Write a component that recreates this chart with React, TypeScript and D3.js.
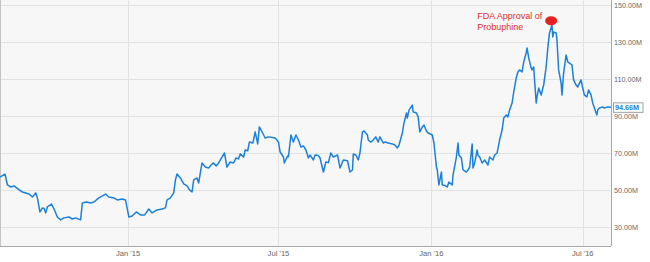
import React from 'react';
import * as d3 from 'd3';

const series2014: [string, number][] = [
  ['2014-07-31', 57.0], ['2014-08-06', 58.6], ['2014-08-09', 52.7], ['2014-08-13', 51.6], ['2014-08-17', 52.2],
  ['2014-08-20', 51.1], ['2014-08-23', 50.0], ['2014-08-27', 48.9], ['2014-08-31', 48.4],
  ['2014-09-04', 47.8], ['2014-09-08', 46.2], ['2014-09-12', 48.4], ['2014-09-14', 45.7], ['2014-09-17', 38.1],
  ['2014-09-20', 40.3], ['2014-09-22', 40.0], ['2014-09-24', 37.6], ['2014-09-26', 40.8],
  ['2014-10-01', 42.4], ['2014-10-04', 39.7], ['2014-10-08', 35.4], ['2014-10-12', 33.8], ['2014-10-16', 34.9],
  ['2014-10-22', 35.4], ['2014-10-26', 34.3], ['2014-10-30', 34.9],
  ['2014-11-05', 33.8], ['2014-11-07', 43.0], ['2014-11-12', 43.5], ['2014-11-17', 43.0], ['2014-11-21', 43.5],
  ['2014-11-27', 45.7],
  ['2014-12-05', 47.8], ['2014-12-09', 46.2], ['2014-12-15', 45.7], ['2014-12-19', 44.6], ['2014-12-25', 45.1],
  ['2014-12-29', 44.6],
];

const series2015: [string, number][] = [
  ['2015-01-02', 35.4], ['2015-01-06', 35.9], ['2015-01-11', 38.1], ['2015-01-16', 36.5], ['2015-01-21', 36.5],
  ['2015-01-26', 39.7], ['2015-01-30', 37.6],
  ['2015-02-05', 39.2], ['2015-02-11', 39.7], ['2015-02-15', 40.3], ['2015-02-17', 44.6], ['2015-02-21', 45.7],
  ['2015-02-25', 48.4], ['2015-02-27', 55.4],
  ['2015-03-01', 58.6], ['2015-03-05', 56.5], ['2015-03-09', 53.3], ['2015-03-13', 52.2], ['2015-03-16', 50.0],
  ['2015-03-19', 48.9], ['2015-03-21', 55.4], ['2015-03-25', 56.5], ['2015-03-27', 53.8], ['2015-03-31', 64.6],
  ['2015-04-04', 62.4], ['2015-04-08', 61.9], ['2015-04-11', 63.5], ['2015-04-14', 64.6], ['2015-04-17', 63.0],
  ['2015-04-20', 64.6], ['2015-04-24', 67.8], ['2015-04-27', 70.0], ['2015-04-30', 62.4],
  ['2015-05-04', 65.1], ['2015-05-08', 64.6], ['2015-05-11', 67.3], ['2015-05-14', 66.8], ['2015-05-16', 69.5],
  ['2015-05-20', 67.8], ['2015-05-22', 71.6], ['2015-05-25', 71.2], ['2015-05-27', 75.9], ['2015-05-31', 75.4],
  ['2015-06-01', 77.0], ['2015-06-03', 81.4], ['2015-06-06', 74.9], ['2015-06-08', 84.1], ['2015-06-12', 80.8],
  ['2015-06-15', 78.1], ['2015-06-19', 78.7], ['2015-06-24', 78.4], ['2015-06-27', 78.1],
  ['2015-07-01', 75.9], ['2015-07-03', 70.5], ['2015-07-07', 67.8], ['2015-07-08', 64.6], ['2015-07-12', 68.4],
  ['2015-07-13', 68.0], ['2015-07-16', 79.7], ['2015-07-19', 75.9], ['2015-07-22', 79.7], ['2015-07-25', 77.0],
  ['2015-07-28', 73.2], ['2015-07-31', 73.8],
  ['2015-08-03', 71.6], ['2015-08-06', 67.3], ['2015-08-08', 68.9], ['2015-08-12', 66.2], ['2015-08-14', 68.9],
  ['2015-08-18', 68.6], ['2015-08-20', 67.3], ['2015-08-24', 59.7], ['2015-08-27', 65.1], ['2015-08-30', 64.8],
  ['2015-09-02', 70.0], ['2015-09-05', 67.8], ['2015-09-10', 68.9], ['2015-09-13', 61.9], ['2015-09-17', 66.2],
  ['2015-09-22', 65.8], ['2015-09-25', 59.7], ['2015-09-28', 60.8], ['2015-09-29', 69.5],
  ['2015-10-02', 68.9], ['2015-10-05', 66.2], ['2015-10-07', 70.0], ['2015-10-10', 81.4], ['2015-10-12', 81.9],
  ['2015-10-16', 79.7], ['2015-10-17', 77.0], ['2015-10-20', 75.9], ['2015-10-23', 77.0], ['2015-10-26', 78.7],
  ['2015-10-29', 75.9], ['2015-10-31', 78.7],
  ['2015-11-04', 75.4], ['2015-11-06', 75.9], ['2015-11-10', 75.4], ['2015-11-15', 74.9], ['2015-11-18', 74.3],
  ['2015-11-21', 72.7], ['2015-11-23', 74.3], ['2015-11-27', 80.8], ['2015-11-29', 86.2],
  ['2015-12-02', 91.6], ['2015-12-03', 88.9], ['2015-12-05', 93.2], ['2015-12-09', 95.9], ['2015-12-10', 92.2],
  ['2015-12-14', 91.6], ['2015-12-16', 89.5], ['2015-12-18', 81.4], ['2015-12-21', 84.1], ['2015-12-23', 85.1],
  ['2015-12-26', 81.9], ['2015-12-28', 80.8],
];

const series2016: [string, number][] = [
  ['2016-01-02', 79.7], ['2016-01-04', 75.4], ['2016-01-07', 62.4], ['2016-01-08', 60.8], ['2016-01-10', 52.7],
  ['2016-01-13', 59.7], ['2016-01-14', 52.7], ['2016-01-17', 52.5], ['2016-01-20', 51.6], ['2016-01-22', 54.3],
  ['2016-01-26', 52.7], ['2016-01-27', 58.1], ['2016-01-31', 67.8],
  ['2016-02-02', 75.4], ['2016-02-03', 68.9], ['2016-02-06', 67.3], ['2016-02-08', 60.8], ['2016-02-12', 59.7],
  ['2016-02-14', 60.8], ['2016-02-16', 62.4], ['2016-02-19', 74.9], ['2016-02-20', 61.9], ['2016-02-22', 64.6],
  ['2016-02-25', 71.6], ['2016-02-26', 68.9], ['2016-02-28', 67.8],
  ['2016-03-02', 64.6], ['2016-03-05', 66.2], ['2016-03-09', 63.5], ['2016-03-11', 67.8], ['2016-03-15', 66.2],
  ['2016-03-17', 68.9], ['2016-03-20', 70.0], ['2016-03-23', 77.0], ['2016-03-26', 82.4], ['2016-03-28', 88.9],
  ['2016-03-31', 90.5],
  ['2016-04-02', 89.5], ['2016-04-04', 93.2], ['2016-04-07', 97.0], ['2016-04-09', 103.0], ['2016-04-12', 110.5],
  ['2016-04-14', 113.8], ['2016-04-16', 114.9], ['2016-04-19', 113.8], ['2016-04-21', 119.2], ['2016-04-24', 124.1],
  ['2016-04-25', 126.8], ['2016-04-27', 121.4], ['2016-04-30', 115.9],
  ['2016-05-01', 114.9], ['2016-05-03', 116.5], ['2016-05-06', 97.0], ['2016-05-07', 100.3], ['2016-05-09', 105.1],
  ['2016-05-12', 101.3], ['2016-05-14', 105.1], ['2016-05-15', 106.7], ['2016-05-18', 116.5], ['2016-05-20', 126.8],
  ['2016-05-22', 134.9], ['2016-05-25', 139.2], ['2016-05-26', 132.7], ['2016-05-27', 135.4], ['2016-05-30', 134.9],
  ['2016-05-31', 131.1],
  ['2016-06-02', 114.9], ['2016-06-05', 107.8], ['2016-06-06', 101.3], ['2016-06-08', 113.2], ['2016-06-11', 123.0],
  ['2016-06-13', 119.2], ['2016-06-15', 118.6], ['2016-06-18', 117.6], ['2016-06-20', 109.5], ['2016-06-23', 106.7],
  ['2016-06-25', 105.7], ['2016-06-29', 109.5],
  ['2016-07-01', 105.1], ['2016-07-03', 101.3], ['2016-07-06', 100.3], ['2016-07-08', 104.1], ['2016-07-11', 101.3],
  ['2016-07-13', 97.0], ['2016-07-15', 94.3], ['2016-07-18', 90.5], ['2016-07-19', 93.2], ['2016-07-21', 94.3],
  ['2016-07-25', 94.9], ['2016-07-27', 94.3], ['2016-07-31', 94.9], ['2016-08-04', 94.66],
];

const yTicks = [30, 50, 70, 90, 110, 130, 150];
const xTickDates = ['2015-01-01', '2015-07-01', '2016-01-01', '2016-07-01'];
const xTickLabels = ["Jan '15", "Jul '15", "Jan '16", "Jul '16"];
const lastValueLabel = '94.66M';
const annotationLines = ['FDA Approval of', 'Probuphine'];
const annotationPoint: [string, number] = ['2016-05-24', 141.5];

const W = 650;
const H = 262;
const PLOT_R = 611;
const PLOT_B = 246;
const FONT = "'Liberation Sans', Arial, sans-serif";

export default function App() {
  const parse = d3.timeParse('%Y-%m-%d');
  const data = [...series2014, ...series2015, ...series2016].map(([d, v]) => ({ date: parse(d) as Date, value: v }));

  const x = d3.scaleTime()
    .domain([parse('2014-07-31') as Date, parse('2016-08-04') as Date])
    .range([0, PLOT_R]);
  const y = d3.scaleLinear().domain([19.7, 152.7]).range([PLOT_B, 0]);

  const line = d3.line<{ date: Date; value: number }>()
    .x((d) => x(d.date))
    .y((d) => y(d.value));

  const last = data[data.length - 1];
  const ly = y(last.value);
  const ax = x(parse(annotationPoint[0]) as Date);
  const ay = y(annotationPoint[1]);

  return (
    <svg width={W} height={H} style={{ position: 'absolute', left: 0, top: 0, background: '#fff' }}>
      <rect x={0} y={0} width={PLOT_R} height={PLOT_B} fill="#f7f7f7" />
      {yTicks.map((t) => (
        <line key={'h' + t} x1={0} x2={PLOT_R} y1={Math.round(y(t)) + 0.5} y2={Math.round(y(t)) + 0.5} stroke="#e2e2e2" strokeWidth={1} />
      ))}
      {xTickDates.map((t) => {
        const xx = Math.round(x(parse(t) as Date)) + 0.5;
        return <line key={'v' + t} x1={xx} x2={xx} y1={0} y2={PLOT_B} stroke="#e2e2e2" strokeWidth={1} />;
      })}
      <line x1={0.5} x2={0.5} y1={0} y2={PLOT_B} stroke="#c4c4c4" />
      <line x1={0} x2={PLOT_R} y1={PLOT_B + 0.5} y2={PLOT_B + 0.5} stroke="#a8a8a8" />
      <line x1={PLOT_R + 0.5} x2={PLOT_R + 0.5} y1={0} y2={PLOT_B} stroke="#a8a8a8" />
      <path d={line(data) || ''} fill="none" stroke="#1c80d8" strokeWidth={1.5} strokeLinejoin="round" />
      {yTicks.map((t) => (
        <text key={'yl' + t} x={614} y={y(t) + 2.6} fontFamily={FONT} fontSize={7.2} fill="#666">
          {t.toFixed(2) + 'M'}
        </text>
      ))}
      {xTickDates.map((t, i) => (
        <text key={'xl' + t} x={x(parse(t) as Date)} y={256} textAnchor="middle" fontFamily={FONT} fontSize={7.6} fill="#666">
          {xTickLabels[i]}
        </text>
      ))}
      <rect x={613.5} y={ly - 4.5} width={29.5} height={9.5} fill="#fff" stroke="#a0a0a0" strokeWidth={1} />
      <text x={615} y={ly + 2.7} fontFamily={FONT} fontSize={7.2} fontWeight="bold" fill="#1c80d8">
        {lastValueLabel}
      </text>
      <ellipse cx={ax} cy={ay} rx={6} ry={4.5} fill="#e62020" />
      {annotationLines.map((s, i) => (
        <text key={'an' + i} x={ax - 74} y={18.5 + i * 11} fontFamily={FONT} fontSize={9} fill="#d8322c">
          {s}
        </text>
      ))}
    </svg>
  );
}
